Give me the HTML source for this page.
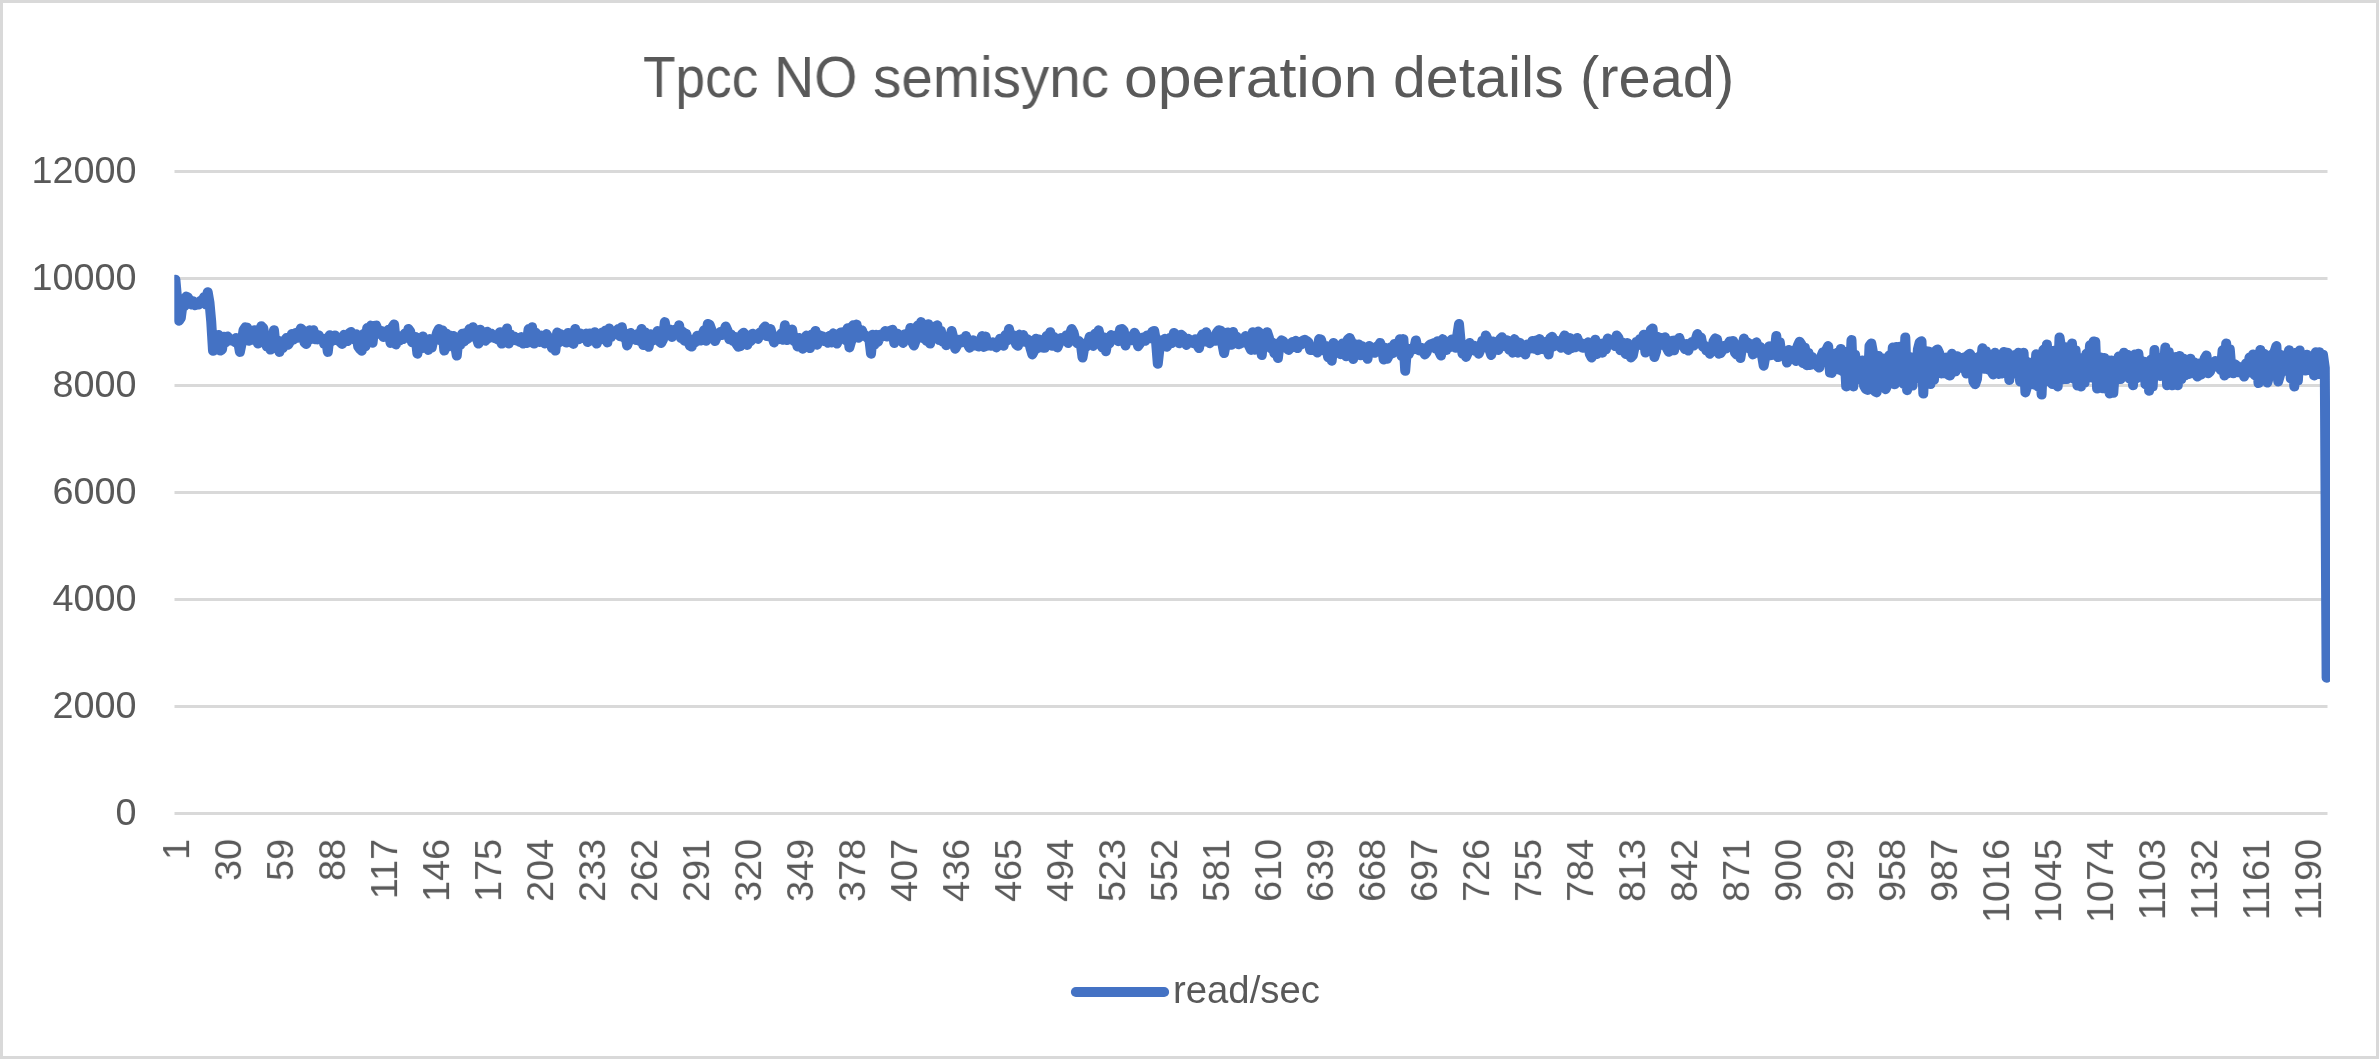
<!DOCTYPE html>
<html lang="en"><head><meta charset="utf-8"><title>Tpcc NO semisync operation details (read)</title>
<style>
html,body{margin:0;padding:0;background:#fff;}
body{width:2379px;height:1059px;overflow:hidden;position:relative;font-family:"Liberation Sans",sans-serif;color:#595959;}
#frame{position:absolute;left:0;top:0;width:2379px;height:1059px;box-sizing:border-box;border:3px solid #D9D9D9;background:#fff;}
#gfx{position:absolute;left:0;top:0;}
.t{position:absolute;white-space:nowrap;line-height:1;will-change:transform;}
.tw{top:48.6px;font-size:57.50px;transform-origin:0 0;}
.yl{left:0;width:136.5px;text-align:right;font-size:37.80px;height:37.80px;letter-spacing:0.00px;}
.xl{font-size:37.80px;height:37.80px;width:120px;text-align:right;transform-origin:100% 50%;transform:rotate(-90deg);letter-spacing:0.00px;}
#leg{left:1173.4px;top:971.2px;font-size:38.30px;letter-spacing:0.00px;}
</style></head><body>
<div id="frame"></div>
<svg id="gfx" width="2379" height="1059" viewBox="0 0 2379 1059">
<defs><clipPath id="pc"><rect x="174.3" y="150" width="2155.7" height="680"/></clipPath></defs>
<line x1="174.5" y1="813.5" x2="2327.5" y2="813.5" stroke="#D9D9D9" stroke-width="3"/>
<line x1="174.5" y1="706.5" x2="2327.5" y2="706.5" stroke="#D9D9D9" stroke-width="3"/>
<line x1="174.5" y1="599.5" x2="2327.5" y2="599.5" stroke="#D9D9D9" stroke-width="3"/>
<line x1="174.5" y1="492.5" x2="2327.5" y2="492.5" stroke="#D9D9D9" stroke-width="3"/>
<line x1="174.5" y1="385.5" x2="2327.5" y2="385.5" stroke="#D9D9D9" stroke-width="3"/>
<line x1="174.5" y1="278.5" x2="2327.5" y2="278.5" stroke="#D9D9D9" stroke-width="3"/>
<line x1="174.5" y1="171.5" x2="2327.5" y2="171.5" stroke="#D9D9D9" stroke-width="3"/>
<polyline clip-path="url(#pc)" fill="none" stroke="#4472C4" stroke-width="10.0" stroke-linejoin="round" stroke-linecap="round" points="175.4,279.7 177.2,300.0 179.0,320.7 180.8,318.0 182.6,304.0 184.4,306.2 186.2,296.6 187.9,297.3 189.7,301.1 191.5,304.4 193.3,301.3 195.1,305.2 196.9,303.6 198.7,304.3 200.5,300.9 202.3,302.0 204.1,296.9 205.9,304.6 207.7,292.2 209.5,302.6 211.2,321.3 213.0,350.8 214.8,345.4 216.6,343.7 218.4,334.9 220.2,350.6 222.0,349.6 223.8,336.7 225.6,342.5 227.4,336.4 229.2,338.7 231.0,340.4 232.8,339.4 234.6,342.0 236.3,338.0 238.1,341.3 239.9,351.9 241.7,343.0 243.5,330.2 245.3,327.3 247.1,327.7 248.9,340.8 250.7,333.5 252.5,339.8 254.3,330.2 256.1,331.4 257.9,343.6 259.7,330.3 261.4,326.2 263.2,328.0 265.0,337.8 266.8,346.5 268.6,338.3 270.4,349.6 272.2,345.0 274.0,330.2 275.8,348.2 277.6,340.4 279.4,351.9 281.2,344.9 283.0,347.9 284.7,340.3 286.5,338.0 288.3,344.7 290.1,341.4 291.9,334.0 293.7,339.4 295.5,333.0 297.3,337.8 299.1,332.7 300.9,328.5 302.7,330.3 304.5,342.6 306.3,344.0 308.1,338.1 309.8,330.3 311.6,338.9 313.4,330.2 315.2,339.2 317.0,339.4 318.8,335.3 320.6,339.5 322.4,339.2 324.2,343.9 326.0,338.6 327.8,351.9 329.6,335.3 331.4,341.5 333.2,339.2 334.9,335.4 336.7,340.0 338.5,340.1 340.3,342.2 342.1,344.0 343.9,334.8 345.7,340.4 347.5,341.1 349.3,333.1 351.1,331.9 352.9,338.5 354.7,339.7 356.5,334.2 358.2,346.6 360.0,349.1 361.8,350.7 363.6,333.9 365.4,346.2 367.2,328.1 369.0,340.7 370.8,325.6 372.6,342.8 374.4,326.0 376.2,325.6 378.0,330.5 379.8,333.9 381.6,331.0 383.3,336.9 385.1,331.6 386.9,336.2 388.7,329.7 390.5,342.9 392.3,327.3 394.1,324.5 395.9,344.5 397.7,340.4 399.5,340.5 401.3,335.9 403.1,339.1 404.9,333.5 406.7,336.7 408.4,329.0 410.2,331.5 412.0,342.2 413.8,341.7 415.6,336.9 417.4,353.7 419.2,338.2 421.0,348.6 422.8,336.4 424.6,346.6 426.4,340.4 428.2,349.9 430.0,339.1 431.7,347.6 433.5,339.4 435.3,339.1 437.1,332.5 438.9,329.0 440.7,340.4 442.5,330.4 444.3,350.6 446.1,333.4 447.9,346.6 449.7,335.5 451.5,345.7 453.3,336.0 455.1,344.9 456.8,355.6 458.6,337.2 460.4,344.6 462.2,333.8 464.0,341.7 465.8,332.9 467.6,339.0 469.4,329.1 471.2,336.6 473.0,327.2 474.8,330.3 476.6,337.5 478.4,343.6 480.2,329.7 481.9,337.7 483.7,334.0 485.5,340.8 487.3,331.7 489.1,338.0 490.9,333.4 492.7,335.6 494.5,338.2 496.3,335.1 498.1,339.6 499.9,332.2 501.7,343.6 503.5,332.9 505.2,338.2 507.0,328.4 508.8,343.6 510.6,334.5 512.4,339.9 514.2,336.5 516.0,340.4 517.8,337.9 519.6,341.9 521.4,337.1 523.2,343.6 525.0,337.1 526.8,343.0 528.6,329.1 530.3,340.2 532.1,327.2 533.9,343.6 535.7,332.6 537.5,341.0 539.3,341.9 541.1,335.6 542.9,337.0 544.7,343.4 546.5,334.1 548.3,337.3 550.1,340.6 551.9,347.9 553.7,340.3 555.4,350.6 557.2,332.6 559.0,342.3 560.8,334.2 562.6,340.9 564.4,334.9 566.2,342.6 568.0,332.9 569.8,334.2 571.6,342.5 573.4,343.9 575.2,329.0 577.0,339.2 578.7,339.2 580.5,333.5 582.3,337.9 584.1,336.1 585.9,333.6 587.7,342.1 589.5,333.5 591.3,340.6 593.1,334.5 594.9,332.2 596.7,343.6 598.5,336.2 600.3,339.6 602.1,332.5 603.8,339.0 605.6,330.5 607.4,342.4 609.2,328.4 611.0,337.1 612.8,332.4 614.6,332.3 616.4,331.0 618.2,329.0 620.0,336.2 621.8,327.2 623.6,337.5 625.4,333.6 627.1,345.5 628.9,340.8 630.7,332.9 632.5,335.3 634.3,338.7 636.1,340.1 637.9,333.8 639.7,341.0 641.5,329.0 643.3,345.1 645.1,332.1 646.9,336.8 648.7,346.8 650.5,334.3 652.2,340.8 654.0,336.0 655.8,338.7 657.6,331.0 659.4,341.4 661.2,343.0 663.0,339.4 664.8,322.1 666.6,332.6 668.4,330.7 670.2,329.6 672.0,337.0 673.8,332.2 675.6,329.5 677.3,333.7 679.1,325.3 680.9,338.0 682.7,331.5 684.5,340.7 686.3,333.9 688.1,341.2 689.9,345.8 691.7,346.6 693.5,339.6 695.3,342.1 697.1,335.8 698.9,337.4 700.6,340.6 702.4,334.1 704.2,330.1 706.0,340.8 707.8,323.9 709.6,324.6 711.4,329.6 713.2,338.3 715.0,341.1 716.8,337.2 718.6,334.2 720.4,332.0 722.2,334.9 724.0,331.2 725.7,326.5 727.5,330.6 729.3,339.2 731.1,334.5 732.9,340.8 734.7,336.8 736.5,344.1 738.3,346.8 740.1,346.3 741.9,334.2 743.7,332.8 745.5,335.0 747.3,344.9 749.1,337.0 750.8,341.1 752.6,333.7 754.4,337.7 756.2,336.3 758.0,338.9 759.8,332.5 761.6,334.9 763.4,328.6 765.2,326.5 767.0,336.1 768.8,336.3 770.6,329.0 772.4,337.0 774.1,342.4 775.9,336.7 777.7,339.6 779.5,336.1 781.3,333.5 783.1,339.8 784.9,325.3 786.7,340.1 788.5,332.1 790.3,337.1 792.1,329.5 793.9,341.0 795.7,337.4 797.5,346.4 799.2,337.9 801.0,345.6 802.8,348.7 804.6,344.0 806.4,335.6 808.2,338.4 810.0,348.0 811.8,334.5 813.6,344.2 815.4,330.9 817.2,344.7 819.0,335.0 820.8,340.7 822.6,336.3 824.3,341.1 826.1,337.3 827.9,342.8 829.7,335.8 831.5,342.5 833.3,333.3 835.1,340.5 836.9,343.6 838.7,338.5 840.5,332.6 842.3,337.7 844.1,331.7 845.9,340.4 847.6,328.2 849.4,347.4 851.2,341.1 853.0,325.3 854.8,336.5 856.6,324.6 858.4,337.7 860.2,336.3 862.0,330.4 863.8,335.7 865.6,335.4 867.4,338.1 869.2,338.0 871.0,353.7 872.7,334.7 874.5,344.6 876.3,334.8 878.1,341.9 879.9,334.7 881.7,336.7 883.5,334.4 885.3,330.9 887.1,336.6 888.9,332.7 890.7,330.5 892.5,329.7 894.3,343.0 896.1,339.3 897.8,333.7 899.6,339.2 901.4,336.3 903.2,343.0 905.0,334.2 906.8,338.2 908.6,339.1 910.4,327.9 912.2,341.8 914.0,345.5 915.8,340.2 917.6,325.6 919.4,333.7 921.1,322.1 922.9,338.2 924.7,326.0 926.5,340.9 928.3,324.3 930.1,343.6 931.9,328.8 933.7,330.5 935.5,326.3 937.3,325.3 939.1,340.1 940.9,330.9 942.7,341.7 944.5,336.3 946.2,345.2 948.0,336.7 949.8,343.5 951.6,330.9 953.4,338.0 955.2,348.7 957.0,345.6 958.8,339.7 960.6,342.8 962.4,339.0 964.2,342.1 966.0,336.0 967.8,344.3 969.6,347.7 971.3,343.8 973.1,340.3 974.9,345.6 976.7,345.5 978.5,346.6 980.3,340.4 982.1,336.1 983.9,346.9 985.7,336.6 987.5,345.7 989.3,344.8 991.1,345.6 992.9,342.3 994.6,345.9 996.4,347.4 998.2,344.4 1000.0,338.7 1001.8,343.4 1003.6,345.8 1005.4,335.1 1007.2,340.6 1009.0,329.0 1010.8,337.5 1012.6,334.9 1014.4,339.2 1016.2,344.3 1018.0,345.8 1019.7,334.6 1021.5,340.8 1023.3,335.1 1025.1,341.8 1026.9,338.9 1028.7,340.3 1030.5,348.2 1032.3,354.4 1034.1,351.0 1035.9,338.8 1037.7,348.0 1039.5,339.6 1041.3,347.4 1043.0,347.7 1044.8,347.7 1046.6,336.0 1048.4,341.4 1050.2,332.2 1052.0,345.8 1053.8,336.9 1055.6,345.0 1057.4,347.4 1059.2,343.3 1061.0,337.9 1062.8,340.9 1064.6,340.0 1066.4,335.3 1068.1,343.0 1069.9,334.0 1071.7,329.0 1073.5,332.5 1075.3,339.9 1077.1,343.2 1078.9,341.1 1080.7,343.0 1082.5,357.5 1084.3,347.4 1086.1,346.8 1087.9,343.6 1089.7,336.7 1091.5,344.3 1093.2,345.9 1095.0,333.7 1096.8,340.4 1098.6,330.3 1100.4,338.2 1102.2,347.4 1104.0,337.5 1105.8,351.2 1107.6,341.8 1109.4,343.4 1111.2,335.1 1113.0,339.6 1114.8,335.8 1116.5,337.0 1118.3,341.2 1120.1,329.5 1121.9,329.0 1123.7,330.7 1125.5,345.5 1127.3,337.0 1129.1,340.6 1130.9,336.1 1132.7,340.3 1134.5,332.8 1136.3,335.9 1138.1,346.2 1139.9,343.6 1141.6,338.1 1143.4,337.4 1145.2,340.8 1147.0,335.5 1148.8,337.6 1150.6,338.3 1152.4,331.6 1154.2,330.9 1156.0,341.1 1157.8,363.8 1159.6,347.4 1161.4,340.2 1163.2,346.1 1165.0,338.8 1166.7,346.8 1168.5,344.2 1170.3,337.7 1172.1,343.0 1173.9,332.9 1175.7,334.7 1177.5,335.2 1179.3,343.3 1181.1,334.7 1182.9,336.3 1184.7,341.4 1186.5,344.9 1188.3,338.7 1190.0,342.3 1191.8,341.1 1193.6,343.2 1195.4,339.3 1197.2,344.8 1199.0,348.1 1200.8,337.4 1202.6,334.2 1204.4,341.6 1206.2,332.2 1208.0,336.4 1209.8,343.2 1211.6,341.0 1213.4,337.8 1215.1,340.8 1216.9,332.4 1218.7,330.3 1220.5,330.6 1222.3,343.6 1224.1,353.1 1225.9,343.6 1227.7,332.4 1229.5,333.5 1231.3,344.7 1233.1,331.9 1234.9,341.6 1236.7,336.8 1238.5,344.3 1240.2,343.8 1242.0,340.3 1243.8,342.6 1245.6,336.1 1247.4,338.9 1249.2,346.1 1251.0,349.9 1252.8,332.2 1254.6,349.7 1256.4,332.9 1258.2,331.6 1260.0,333.1 1261.8,355.0 1263.5,334.8 1265.3,342.4 1267.1,332.2 1268.9,337.6 1270.7,348.1 1272.5,342.6 1274.3,353.1 1276.1,346.2 1277.9,358.1 1279.7,342.8 1281.5,340.4 1283.3,341.4 1285.1,344.2 1286.9,348.5 1288.6,349.9 1290.4,347.8 1292.2,342.1 1294.0,347.1 1295.8,340.8 1297.6,348.1 1299.4,342.0 1301.2,344.5 1303.0,340.6 1304.8,339.8 1306.6,340.9 1308.4,342.2 1310.2,350.0 1312.0,350.1 1313.7,349.8 1315.5,348.9 1317.3,352.5 1319.1,339.1 1320.9,339.4 1322.7,345.9 1324.5,350.7 1326.3,345.9 1328.1,357.1 1329.9,354.5 1331.7,360.7 1333.5,342.9 1335.3,352.9 1337.0,347.7 1338.8,352.4 1340.6,354.2 1342.4,343.6 1344.2,344.9 1346.0,356.3 1347.8,339.5 1349.6,337.9 1351.4,341.7 1353.2,359.0 1355.0,344.3 1356.8,354.4 1358.6,344.5 1360.4,355.3 1362.1,346.1 1363.9,354.2 1365.7,349.7 1367.5,358.8 1369.3,346.0 1371.1,352.4 1372.9,348.6 1374.7,352.8 1376.5,346.7 1378.3,346.0 1380.1,342.9 1381.9,347.3 1383.7,359.5 1385.5,348.0 1387.2,358.8 1389.0,355.0 1390.8,347.2 1392.6,353.3 1394.4,344.0 1396.2,344.5 1398.0,352.1 1399.8,339.2 1401.6,356.2 1403.4,339.1 1405.2,370.8 1407.0,348.5 1408.8,354.2 1410.5,348.8 1412.3,349.8 1414.1,348.7 1415.9,340.4 1417.7,349.5 1419.5,350.6 1421.3,347.8 1423.1,350.8 1424.9,354.4 1426.7,352.1 1428.5,346.2 1430.3,344.5 1432.1,346.0 1433.9,343.0 1435.6,348.7 1437.4,341.3 1439.2,351.9 1441.0,355.6 1442.8,339.1 1444.6,343.2 1446.4,350.0 1448.2,342.5 1450.0,347.1 1451.8,339.5 1453.6,340.2 1455.4,347.8 1457.2,336.0 1459.0,324.0 1460.7,342.3 1462.5,353.6 1464.3,347.9 1466.1,356.9 1467.9,352.6 1469.7,342.9 1471.5,347.9 1473.3,345.4 1475.1,350.9 1476.9,346.7 1478.7,353.7 1480.5,349.5 1482.3,340.7 1484.0,346.2 1485.8,335.4 1487.6,339.4 1489.4,349.5 1491.2,355.0 1493.0,341.4 1494.8,344.5 1496.6,348.6 1498.4,350.0 1500.2,339.0 1502.0,337.2 1503.8,346.1 1505.6,341.5 1507.4,340.3 1509.1,349.7 1510.9,342.8 1512.7,352.7 1514.5,339.1 1516.3,343.0 1518.1,352.7 1519.9,342.8 1521.7,351.1 1523.5,347.1 1525.3,354.4 1527.1,344.5 1528.9,348.6 1530.7,348.5 1532.4,341.0 1534.2,348.8 1536.0,340.6 1537.8,350.2 1539.6,339.1 1541.4,348.9 1543.2,345.1 1545.0,349.8 1546.8,341.4 1548.6,354.4 1550.4,337.9 1552.2,336.8 1554.0,346.4 1555.8,340.5 1557.5,345.4 1559.3,342.0 1561.1,347.8 1562.9,338.8 1564.7,335.4 1566.5,348.2 1568.3,349.9 1570.1,338.1 1571.9,348.1 1573.7,341.1 1575.5,347.2 1577.3,337.9 1579.1,345.2 1580.9,343.0 1582.6,347.7 1584.4,346.4 1586.2,348.2 1588.0,342.3 1589.8,353.9 1591.6,357.5 1593.4,353.7 1595.2,339.8 1597.0,354.1 1598.8,351.4 1600.6,343.8 1602.4,352.7 1604.2,342.9 1605.9,349.5 1607.7,338.5 1609.5,340.2 1611.3,344.6 1613.1,340.7 1614.9,345.9 1616.7,335.4 1618.5,337.9 1620.3,350.3 1622.1,342.3 1623.9,344.2 1625.7,354.0 1627.5,343.1 1629.3,354.5 1631.0,357.5 1632.8,355.5 1634.6,347.0 1636.4,342.1 1638.2,342.2 1640.0,339.0 1641.8,345.4 1643.6,334.8 1645.4,352.5 1647.2,350.8 1649.0,350.6 1650.8,330.0 1652.6,328.4 1654.4,356.9 1656.1,351.5 1657.9,336.9 1659.7,345.4 1661.5,338.1 1663.3,342.7 1665.1,337.2 1666.9,348.3 1668.7,351.8 1670.5,348.4 1672.3,340.7 1674.1,350.3 1675.9,340.2 1677.7,344.3 1679.4,337.9 1681.2,344.9 1683.0,343.6 1684.8,348.9 1686.6,343.9 1688.4,350.6 1690.2,344.2 1692.0,342.0 1693.8,345.5 1695.6,339.7 1697.4,334.1 1699.2,338.4 1701.0,337.5 1702.8,346.5 1704.5,345.5 1706.3,350.4 1708.1,350.1 1709.9,353.7 1711.7,350.7 1713.5,341.4 1715.3,338.5 1717.1,339.3 1718.9,353.7 1720.7,353.0 1722.5,350.3 1724.3,345.8 1726.1,348.6 1727.9,344.5 1729.6,341.6 1731.4,341.7 1733.2,341.0 1735.0,352.8 1736.8,354.6 1738.6,344.9 1740.4,358.1 1742.2,345.9 1744.0,338.5 1745.8,347.4 1747.6,342.5 1749.4,348.7 1751.2,343.9 1752.9,354.4 1754.7,345.0 1756.5,342.3 1758.3,353.0 1760.1,346.8 1761.9,355.0 1763.7,365.7 1765.5,355.6 1767.3,350.4 1769.1,346.3 1770.9,355.2 1772.7,346.0 1774.5,353.7 1776.3,336.0 1778.0,357.1 1779.8,342.3 1781.6,355.4 1783.4,354.8 1785.2,351.8 1787.0,362.6 1788.8,349.9 1790.6,356.4 1792.4,358.9 1794.2,350.2 1796.0,361.0 1797.8,345.6 1799.6,341.7 1801.4,344.5 1803.1,363.2 1804.9,347.7 1806.7,365.2 1808.5,353.0 1810.3,364.9 1812.1,356.9 1813.9,363.3 1815.7,359.5 1817.5,366.3 1819.3,367.6 1821.1,356.9 1822.9,352.3 1824.7,361.8 1826.4,349.7 1828.2,346.1 1830.0,372.6 1831.8,372.9 1833.6,354.0 1835.4,363.5 1837.2,352.7 1839.0,369.7 1840.8,348.9 1842.6,371.2 1844.4,351.8 1846.2,386.4 1848.0,352.7 1849.8,376.9 1851.5,340.1 1853.3,386.4 1855.1,354.7 1856.9,378.7 1858.7,360.7 1860.5,379.7 1862.3,360.5 1864.1,385.9 1865.9,389.2 1867.7,389.9 1869.5,345.9 1871.3,343.4 1873.1,353.1 1874.9,391.3 1876.6,392.4 1878.4,356.0 1880.2,381.7 1882.0,358.3 1883.8,385.9 1885.6,389.2 1887.4,385.2 1889.2,355.6 1891.0,374.0 1892.8,347.4 1894.6,384.2 1896.4,347.0 1898.2,377.6 1899.9,346.8 1901.7,349.4 1903.5,383.8 1905.3,337.4 1907.1,390.2 1908.9,383.9 1910.7,357.2 1912.5,385.6 1914.3,359.4 1916.1,378.3 1917.9,349.2 1919.7,342.4 1921.5,341.2 1923.3,393.5 1925.0,351.0 1926.8,383.4 1928.6,351.5 1930.4,384.1 1932.2,357.0 1934.0,379.7 1935.8,350.6 1937.6,349.4 1939.4,353.5 1941.2,373.4 1943.0,359.8 1944.8,373.3 1946.6,357.6 1948.3,374.8 1950.1,375.5 1951.9,353.8 1953.7,356.1 1955.5,371.4 1957.3,356.3 1959.1,366.3 1960.9,357.9 1962.7,368.1 1964.5,357.2 1966.3,373.5 1968.1,354.9 1969.9,353.8 1971.7,356.9 1973.4,381.5 1975.2,384.2 1977.0,378.9 1978.8,356.7 1980.6,368.4 1982.4,348.3 1984.2,368.7 1986.0,351.3 1987.8,369.5 1989.6,360.1 1991.4,371.4 1993.2,374.4 1995.0,352.7 1996.8,356.8 1998.5,374.0 2000.3,355.4 2002.1,373.4 2003.9,351.9 2005.7,372.9 2007.5,352.7 2009.3,380.0 2011.1,355.9 2012.9,373.5 2014.7,355.0 2016.5,374.0 2018.3,352.7 2020.1,381.5 2021.8,355.9 2023.6,352.7 2025.4,392.4 2027.2,386.2 2029.0,362.6 2030.8,381.5 2032.6,364.0 2034.4,384.6 2036.2,354.2 2038.0,386.4 2039.8,356.0 2041.6,394.6 2043.4,349.8 2045.2,380.3 2046.9,344.5 2048.7,381.0 2050.5,355.7 2052.3,384.1 2054.1,350.7 2055.9,380.0 2057.7,386.4 2059.5,337.4 2061.3,348.8 2063.1,379.3 2064.9,346.9 2066.7,379.1 2068.5,352.8 2070.3,373.3 2072.0,343.4 2073.8,378.9 2075.6,350.2 2077.4,385.5 2079.2,361.2 2081.0,386.4 2082.8,358.1 2084.6,382.7 2086.4,353.7 2088.2,373.6 2090.0,345.2 2091.8,377.4 2093.6,341.4 2095.3,341.8 2097.1,388.6 2098.9,379.4 2100.7,357.4 2102.5,388.2 2104.3,357.9 2106.1,388.7 2107.9,360.3 2109.7,393.5 2111.5,360.6 2113.3,392.8 2115.1,365.8 2116.9,378.7 2118.7,356.5 2120.4,379.0 2122.2,357.2 2124.0,352.7 2125.8,355.1 2127.6,354.7 2129.4,378.5 2131.2,357.6 2133.0,385.3 2134.8,354.5 2136.6,378.2 2138.4,353.8 2140.2,373.1 2142.0,371.0 2143.8,361.7 2145.5,384.3 2147.3,363.7 2149.1,390.8 2150.9,359.7 2152.7,386.5 2154.5,350.0 2156.3,374.6 2158.1,357.4 2159.9,376.0 2161.7,360.3 2163.5,375.2 2165.3,347.6 2167.1,385.3 2168.8,352.1 2170.6,378.9 2172.4,385.3 2174.2,384.7 2176.0,357.0 2177.8,385.3 2179.6,356.0 2181.4,379.0 2183.2,358.5 2185.0,375.3 2186.8,361.4 2188.6,374.0 2190.4,358.7 2192.2,373.2 2193.9,362.1 2195.7,371.1 2197.5,376.6 2199.3,363.5 2201.1,374.5 2202.9,367.8 2204.7,358.3 2206.5,355.4 2208.3,373.3 2210.1,371.5 2211.9,362.8 2213.7,365.0 2215.5,361.0 2217.3,366.8 2219.0,362.8 2220.8,370.0 2222.6,350.3 2224.4,375.5 2226.2,343.4 2228.0,373.2 2229.8,349.3 2231.6,371.4 2233.4,373.3 2235.2,364.5 2237.0,366.1 2238.8,372.3 2240.6,371.0 2242.3,366.9 2244.1,376.6 2245.9,363.6 2247.7,369.3 2249.5,357.6 2251.3,372.7 2253.1,354.4 2254.9,375.2 2256.7,357.6 2258.5,383.1 2260.3,350.0 2262.1,377.7 2263.9,353.8 2265.7,378.8 2267.4,382.6 2269.2,375.7 2271.0,355.1 2272.8,375.4 2274.6,351.5 2276.4,346.1 2278.2,381.5 2280.0,375.1 2281.8,355.3 2283.6,371.0 2285.4,355.6 2287.2,370.4 2289.0,350.3 2290.8,378.6 2292.5,354.8 2294.3,386.4 2296.1,352.8 2297.9,380.5 2299.7,350.5 2301.5,366.9 2303.3,355.8 2305.1,370.6 2306.9,354.8 2308.7,370.1 2310.5,368.8 2312.3,357.1 2314.1,375.5 2315.8,352.2 2317.6,374.0 2319.4,352.3 2321.2,370.0 2323.0,354.8 2324.8,367.9 2326.6,677.8"/>
<line x1="1075.9" y1="992" x2="1164.1" y2="992" stroke="#4472C4" stroke-width="10" stroke-linecap="round"/>
</svg>
<div class="t tw" style="left:643.49px;transform:scaleX(0.9265)">Tpcc</div>
<div class="t tw" style="left:774.24px;transform:scaleX(0.9670)">NO</div>
<div class="t tw" style="left:873.03px;transform:scaleX(0.9845)">semisync</div>
<div class="t tw" style="left:1123.71px;transform:scaleX(1.0572)">operation</div>
<div class="t tw" style="left:1392.78px;transform:scaleX(1.0267)">details</div>
<div class="t tw" style="left:1579.77px;transform:scaleX(1.0051)">(read)</div>
<div class="t yl" style="top:794.0px">0</div>
<div class="t yl" style="top:687.0px">2000</div>
<div class="t yl" style="top:580.0px">4000</div>
<div class="t yl" style="top:473.0px">6000</div>
<div class="t yl" style="top:366.0px">8000</div>
<div class="t yl" style="top:259.0px">10000</div>
<div class="t yl" style="top:152.0px">12000</div>
<div class="t xl" style="left:57.2px;top:820.4px">1</div>
<div class="t xl" style="left:109.2px;top:820.4px">30</div>
<div class="t xl" style="left:161.2px;top:820.4px">59</div>
<div class="t xl" style="left:213.2px;top:820.4px">88</div>
<div class="t xl" style="left:265.1px;top:820.4px">117</div>
<div class="t xl" style="left:317.1px;top:820.4px">146</div>
<div class="t xl" style="left:369.1px;top:820.4px">175</div>
<div class="t xl" style="left:421.1px;top:820.4px">204</div>
<div class="t xl" style="left:473.1px;top:820.4px">233</div>
<div class="t xl" style="left:525.1px;top:820.4px">262</div>
<div class="t xl" style="left:577.1px;top:820.4px">291</div>
<div class="t xl" style="left:629.1px;top:820.4px">320</div>
<div class="t xl" style="left:681.0px;top:820.4px">349</div>
<div class="t xl" style="left:733.0px;top:820.4px">378</div>
<div class="t xl" style="left:785.0px;top:820.4px">407</div>
<div class="t xl" style="left:837.0px;top:820.4px">436</div>
<div class="t xl" style="left:889.0px;top:820.4px">465</div>
<div class="t xl" style="left:941.0px;top:820.4px">494</div>
<div class="t xl" style="left:993.0px;top:820.4px">523</div>
<div class="t xl" style="left:1045.0px;top:820.4px">552</div>
<div class="t xl" style="left:1096.9px;top:820.4px">581</div>
<div class="t xl" style="left:1148.9px;top:820.4px">610</div>
<div class="t xl" style="left:1200.9px;top:820.4px">639</div>
<div class="t xl" style="left:1252.9px;top:820.4px">668</div>
<div class="t xl" style="left:1304.9px;top:820.4px">697</div>
<div class="t xl" style="left:1356.9px;top:820.4px">726</div>
<div class="t xl" style="left:1408.9px;top:820.4px">755</div>
<div class="t xl" style="left:1460.9px;top:820.4px">784</div>
<div class="t xl" style="left:1512.8px;top:820.4px">813</div>
<div class="t xl" style="left:1564.8px;top:820.4px">842</div>
<div class="t xl" style="left:1616.8px;top:820.4px">871</div>
<div class="t xl" style="left:1668.8px;top:820.4px">900</div>
<div class="t xl" style="left:1720.8px;top:820.4px">929</div>
<div class="t xl" style="left:1772.8px;top:820.4px">958</div>
<div class="t xl" style="left:1824.8px;top:820.4px">987</div>
<div class="t xl" style="left:1876.8px;top:820.4px">1016</div>
<div class="t xl" style="left:1928.7px;top:820.4px">1045</div>
<div class="t xl" style="left:1980.7px;top:820.4px">1074</div>
<div class="t xl" style="left:2032.7px;top:820.4px">1103</div>
<div class="t xl" style="left:2084.7px;top:820.4px">1132</div>
<div class="t xl" style="left:2136.7px;top:820.4px">1161</div>
<div class="t xl" style="left:2188.7px;top:820.4px">1190</div>
<div class="t" id="leg">read/sec</div>
</body></html>
